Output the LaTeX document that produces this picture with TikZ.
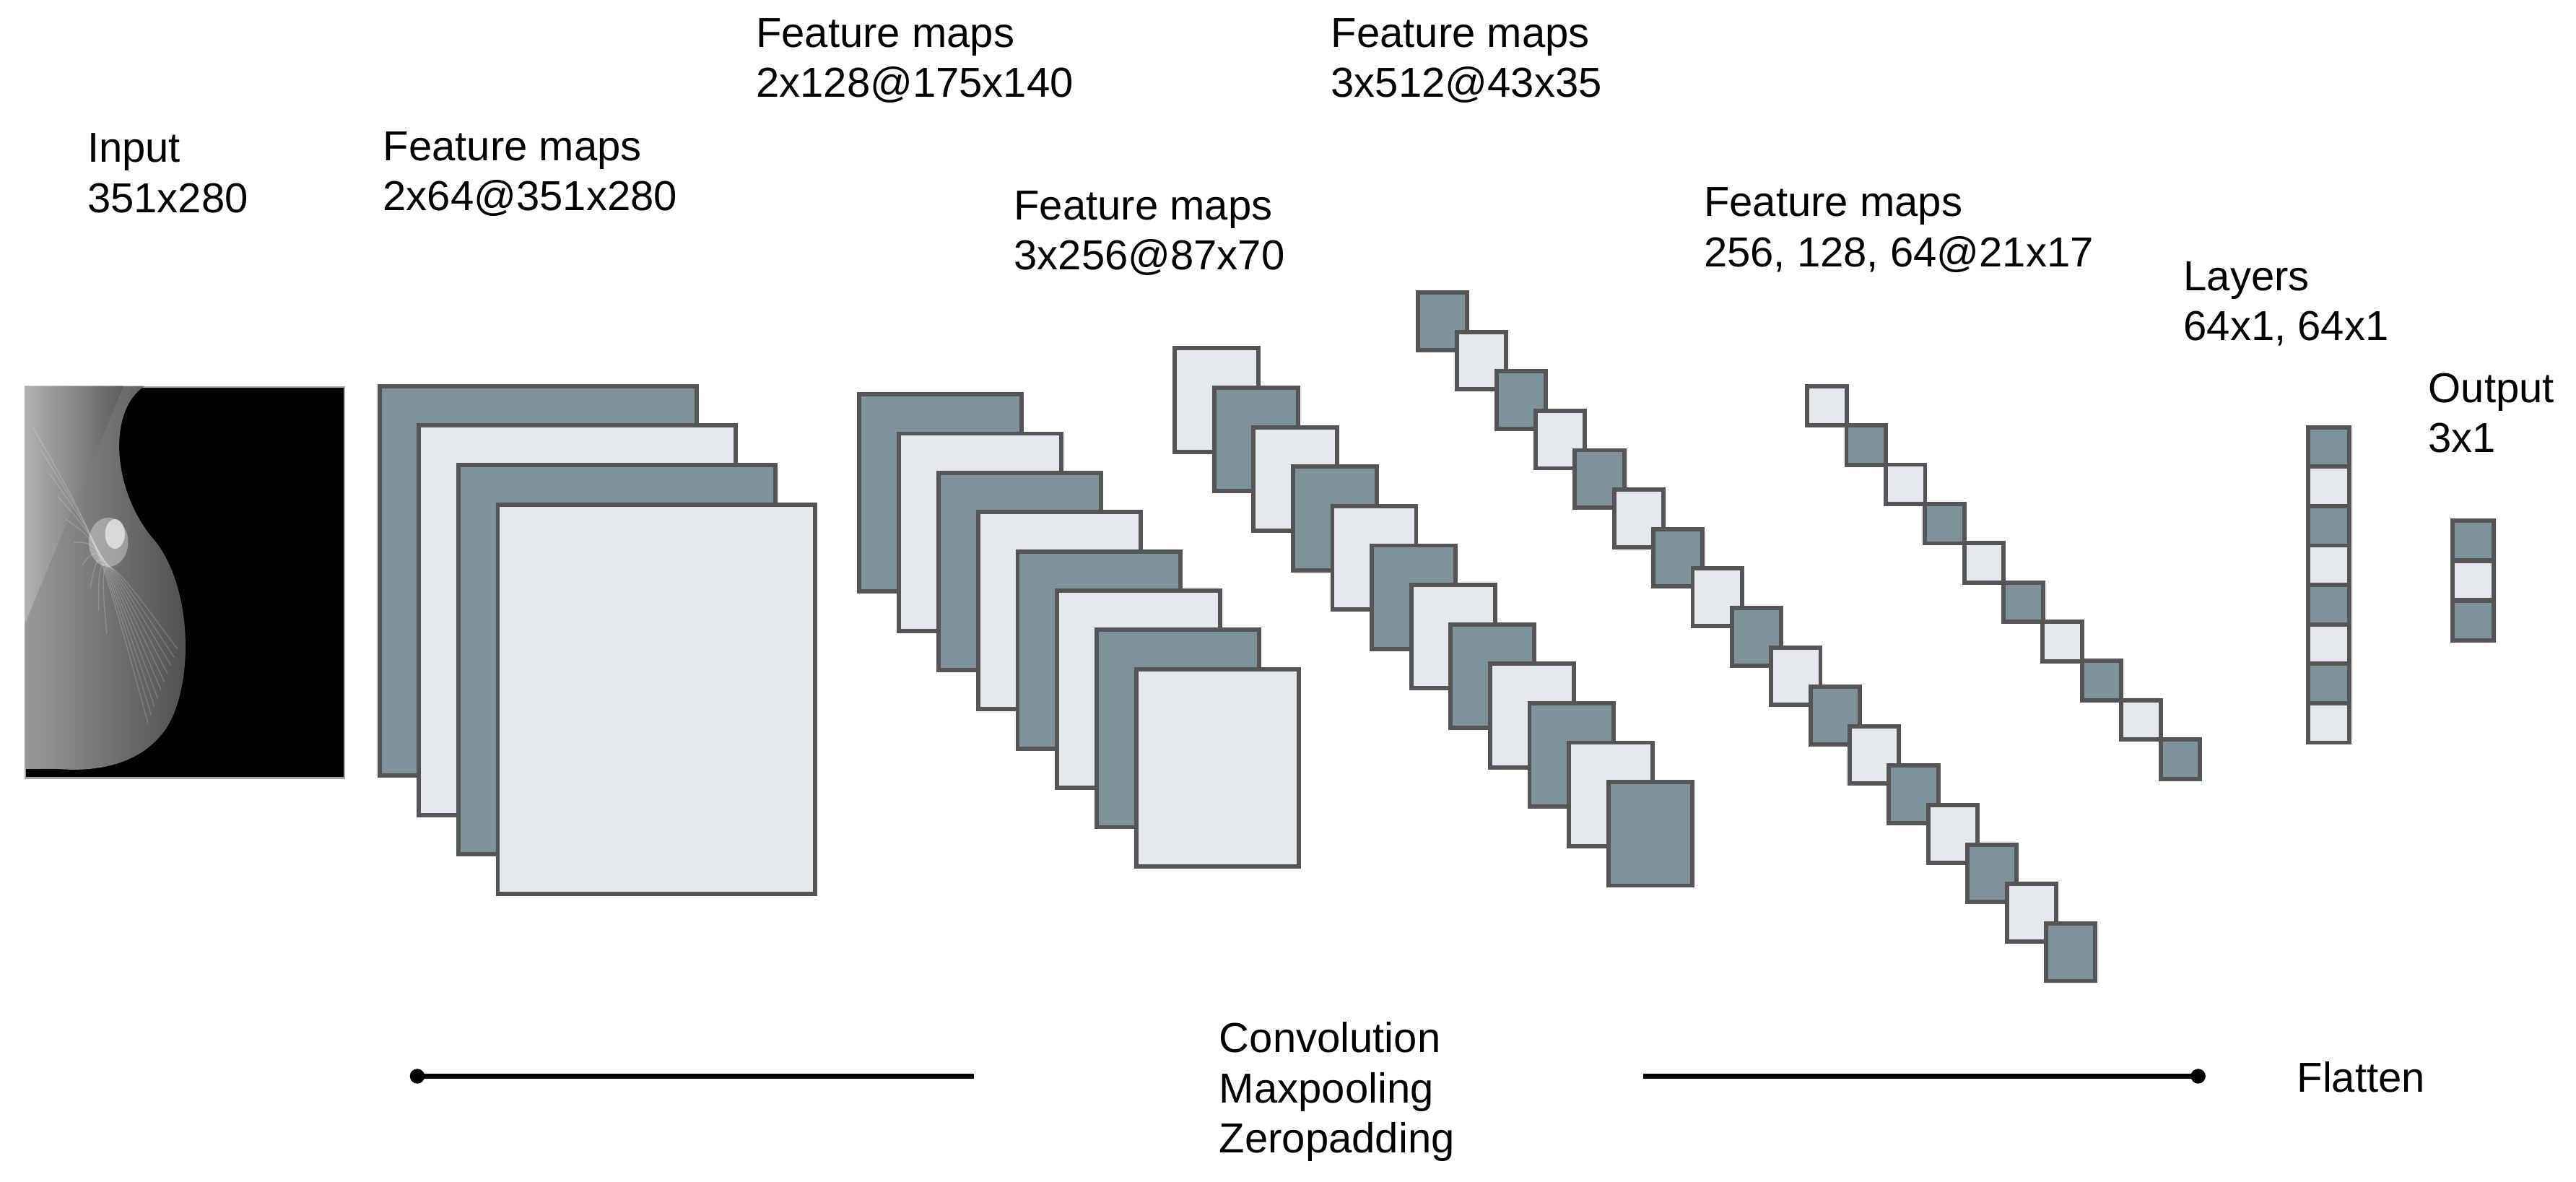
\documentclass[tikz,border=0pt]{standalone}
\usepackage{fontspec}
\setmainfont{Liberation Sans}
\begin{document}
\begin{tikzpicture}[x=1pt,y=-1pt,
  box/.style={draw=edge,line width=2.6pt,inner sep=0,outer sep=0,anchor=north west},
  s0/.style={box,fill=dk},
  s1/.style={box,fill=lt},
  lbl/.style={anchor=north west,align=left,inner sep=0,font=\fontsize{25.5}{30.5}\selectfont},
  rule/.style={line width=3pt,black}]
\definecolor{dk}{RGB}{127,145,153}
\definecolor{lt}{RGB}{229,232,236}
\definecolor{edge}{RGB}{85,85,85}
\useasboundingbox (0,0) rectangle (1568,719);
% input image
\node[anchor=north west,inner sep=0,minimum width=194pt,minimum height=238pt,fill=black,draw=gray!70,line width=1pt] (img) at (15,235) {};
\begin{scope}
\clip (15,235) rectangle (209,473);
\shade[left color=gray!80,right color=gray!60!black] (15,235) -- (88,235) .. controls (65,250) and (68,300) .. (95,330) .. controls (118,360) and (118,420) .. (100,445) .. controls (85,465) and (60,470) .. (35,468) -- (15,468) -- cycle;
\shade[left color=gray!55,right color=gray!70!black,opacity=.8] (15,235) -- (75,235) -- (15,380) -- cycle;
\foreach \k in {0,...,9}{\draw[white,opacity=.18,line width=.6pt] (20+5*\k,260+14*\k) .. controls (60,330) .. (90+2*\k,440-5*\k);}
\fill[white,opacity=.6] (70,325) ellipse (6 and 9);
\fill[white,opacity=.35] (66,330) ellipse (12 and 15);
\end{scope}
% group 1
\foreach \i in {0,...,3}{
  \pgfmathtruncatemacro\p{mod(\i,2)}
  \node[s\p,minimum width=193pt,minimum height=237pt] (a\i) at (231+24*\i,235+24*\i) {};}
% group 2
\foreach \i in {0,...,7}{
  \pgfmathtruncatemacro\p{mod(\i,2)}
  \node[s\p,minimum width=99pt,minimum height=120pt] (b\i) at (523+24.1*\i,240+23.9*\i) {};}
% group 3
\foreach \i in {0,...,11}{
  \pgfmathtruncatemacro\p{1-mod(\i,2)}
  \node[s\p,minimum width=51pt,minimum height=63pt] (c\i) at (715+24*\i,212+24*\i) {};}
% group 4
\foreach \i in {0,...,16}{
  \pgfmathtruncatemacro\p{mod(\i,2)}
  \node[s\p,minimum width=30pt,minimum height=35pt] (d\i) at (863+23.9*\i,178+24*\i) {};}
% group 5
\foreach \i in {0,...,9}{
  \pgfmathtruncatemacro\p{1-mod(\i,2)}
  \node[s\p,minimum width=24pt,minimum height=24pt] (e\i) at (1100+23.9*\i,235+23.9*\i) {};}
% layers
\foreach \i in {0,...,7}{
  \pgfmathtruncatemacro\p{mod(\i,2)}
  \node[s\p,minimum width=25pt,minimum height=24pt] (f\i) at (1405,260+24*\i) {};}
% output
\foreach \i in {0,...,2}{
  \pgfmathtruncatemacro\p{mod(\i,2)}
  \node[s\p,minimum width=25pt,minimum height=24pt] (g\i) at (1493,317+24.3*\i) {};}
% labels
\node[lbl] (t1) at (53,81) {Input\\351x280};
\node[lbl] (t2) at (233,80) {Feature maps\\2x64@351x280};
\node[lbl] (t3) at (460,11) {Feature maps\\2x128@175x140};
\node[lbl] (t4) at (617,116) {Feature maps\\3x256@87x70};
\node[lbl] (t5) at (810,11) {Feature maps\\3x512@43x35};
\node[lbl] (t6) at (1037,114) {Feature maps\\256, 128, 64@21x17};
\node[lbl] (t7) at (1329,159) {Layers\\64x1, 64x1};
\node[lbl] (t8) at (1478,227) {Output\\3x1};
\node[lbl] (t9) at (742,622) {Convolution\\Maxpooling\\Zeropadding};
\node[lbl] (t10) at (1398,646) {Flatten};
% rules
\coordinate (l1a) at (254,655); \coordinate (l1b) at (593,655);
\coordinate (l2a) at (1000,655); \coordinate (l2b) at (1338,655);
\draw[rule] (l1a) -- (l1b);
\draw[rule] (l2a) -- (l2b);
\fill (l1a) circle (4.5);
\fill (l2b) circle (4.5);
\end{tikzpicture}
\end{document}
